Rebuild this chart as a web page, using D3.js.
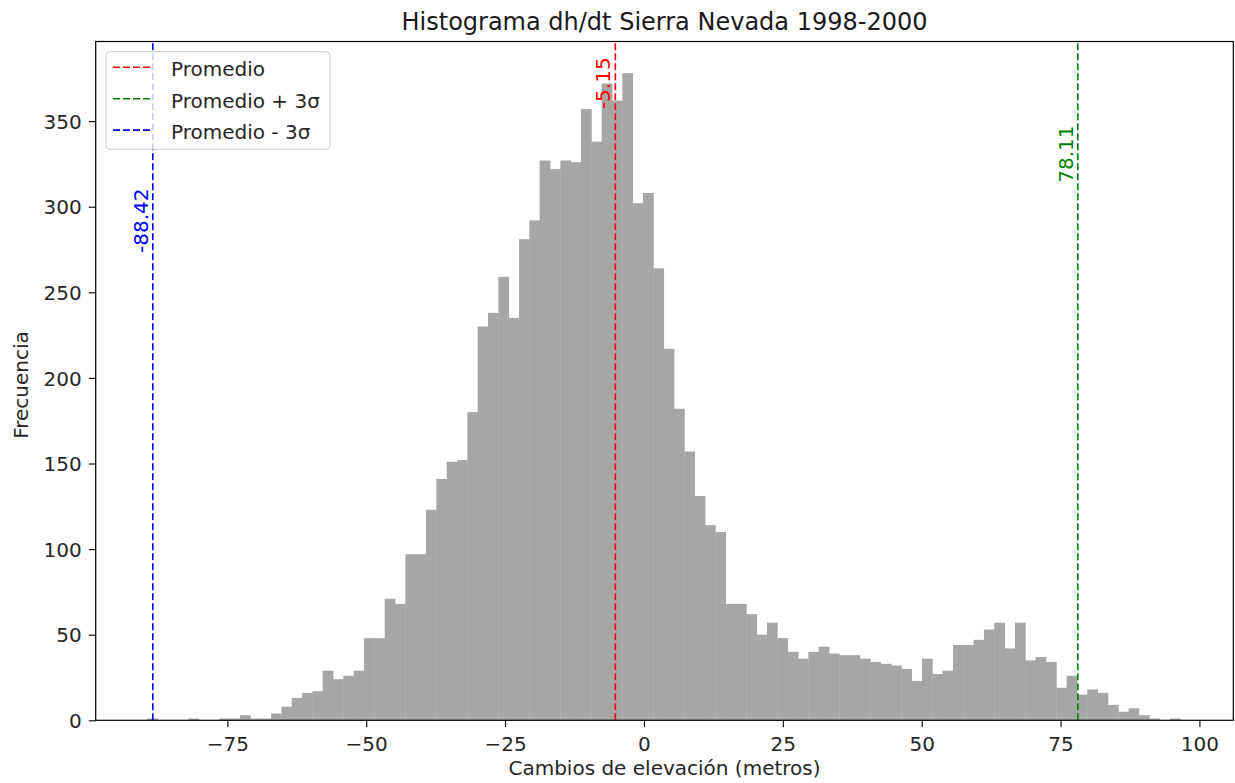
<!DOCTYPE html>
<html>
<head>
<meta charset="utf-8">
<script src="https://cdn.jsdelivr.net/npm/d3@7"></script>
<style>
    body { margin: 0; background: #fff; }
    svg { display: block; font-family: "DejaVu Sans", sans-serif; }
</style>
</head>
<body>
<svg id="chart" width="1235" height="783"></svg>
<script>
// Histogram counts, 100 bins from binStart, each binWidth wide
const binStart = -89.45;
const binWidth = 1.86;
const binCounts = [
    1, 0, 0, 0, 1, 0, 0, 1, 1, 3,
    1, 1, 4, 8, 13, 16, 17, 29, 24, 26,
    29, 48, 48, 71, 68, 97, 97, 123, 141, 151,
    152, 180, 230, 238, 259, 235, 281, 292, 327, 322,
    327, 326, 357, 338, 372, 362, 378, 302, 308, 264,
    217, 182, 157, 131, 114, 110, 68, 68, 62, 50,
    57, 48, 40, 36, 40, 43, 39, 38, 38, 36,
    34, 33, 32, 30, 23, 36, 27, 29, 44, 44,
    47, 53, 57, 42, 57, 35, 37, 34, 19, 26,
    15, 18, 16, 9, 5, 7, 3, 1, 0, 1,
];

// Reference lines: mean and mean +/- 3 sigma
const refNames = ["Promedio", "Promedio + 3σ", "Promedio - 3σ"];
const refValues = [-5.15, 78.11, -88.42];
const refTexts = ["-5.15", "78.11", "-88.42"];
const refColors = ["#ff0000", "#008000", "#0000ff"];
const refLabelAt = [357, 314, 273]; // frequency where the rotated label starts

const xTicks = [-75, -50, -25, 0, 25, 50, 75, 100];
const yTicks = [0, 50, 100, 150, 200, 250, 300, 350];

const W = 1235, H = 783;
const margin = { top: 41.5, right: 1.7, bottom: 62.7, left: 95.7 };
const dash = "7,3";

/**
 * Draw the histogram with its reference lines and legend
 */
function drawChart() {
    const svg = d3.select("#chart");

    const x = d3.scaleLinear().domain([-98.7, 106.1]).range([margin.left, W - margin.right]);
    const y = d3.scaleLinear().domain([0, 396.5]).range([H - margin.bottom, margin.top]);

    const bins = binCounts.map((count, i) => ({
        x0: binStart + i * binWidth,
        x1: binStart + (i + 1) * binWidth,
        count,
    }));

    // bars (tiny overlap so no seams show between neighbours)
    svg.append("g")
        .selectAll("rect")
        .data(bins.filter((d) => d.count > 0))
        .enter()
        .append("rect")
        .attr("x", (d) => x(d.x0))
        .attr("width", (d) => x(d.x1) - x(d.x0) + 0.4)
        .attr("y", (d) => y(d.count))
        .attr("height", (d) => y(0) - y(d.count))
        .attr("fill", "#a6a6a6");

    // vertical dashed lines
    const refs = refValues.map((v, i) => ({
        v, name: refNames[i], text: refTexts[i], color: refColors[i], at: refLabelAt[i],
    }));

    svg.append("g")
        .selectAll("line")
        .data(refs)
        .enter()
        .append("line")
        .attr("x1", (d) => x(d.v))
        .attr("x2", (d) => x(d.v))
        .attr("y1", y.range()[0])
        .attr("y2", y.range()[1])
        .attr("stroke", (d) => d.color)
        .attr("stroke-width", 1.6)
        .attr("stroke-dasharray", dash);

    svg.append("g")
        .selectAll("text")
        .data(refs)
        .enter()
        .append("text")
        .attr("transform", (d) => `translate(${x(d.v) - 5},${y(d.at)}) rotate(-90)`)
        .attr("fill", (d) => d.color)
        .attr("font-size", 20)
        .text((d) => d.text);

    // axes
    const xAxis = svg.append("g")
        .attr("transform", `translate(0,${y(0)})`)
        .call(d3.axisBottom(x).tickValues(xTicks).tickFormat(d3.format("d")).tickSize(7).tickPadding(10));
    const yAxis = svg.append("g")
        .attr("transform", `translate(${margin.left},0)`)
        .call(d3.axisLeft(y).tickValues(yTicks).tickSize(7).tickPadding(7));

    [xAxis, yAxis].map((g) => {
        g.select(".domain").remove();
        g.selectAll(".tick line").attr("stroke", "#000").attr("stroke-width", 1.1);
        g.selectAll(".tick text")
            .attr("fill", "#262626")
            .attr("font-size", 20)
            .attr("font-family", "DejaVu Sans");
    });
    yAxis.selectAll(".tick text").attr("dy", "0.36em");

    // spines
    svg.append("rect")
        .attr("x", margin.left)
        .attr("y", margin.top)
        .attr("width", W - margin.right - margin.left)
        .attr("height", H - margin.bottom - margin.top)
        .attr("fill", "none")
        .attr("stroke", "#000")
        .attr("stroke-width", 1.2);

    // titles
    const cx = (margin.left + W - margin.right) / 2;
    svg.append("text")
        .attr("x", cx).attr("y", 29.5)
        .attr("text-anchor", "middle")
        .attr("font-size", 24)
        .attr("fill", "#1a1a1a")
        .text("Histograma dh/dt Sierra Nevada 1998-2000");

    svg.append("text")
        .attr("x", cx).attr("y", 775)
        .attr("text-anchor", "middle")
        .attr("font-size", 20)
        .attr("fill", "#262626")
        .text("Cambios de elevación (metros)");

    svg.append("text")
        .attr("transform", `translate(28,385) rotate(-90)`)
        .attr("text-anchor", "middle")
        .attr("font-size", 20)
        .attr("fill", "#262626")
        .text("Frecuencia");

    drawLegend(svg, refs);
}

/**
 * Legend box in the upper left corner
 * @param {d3 selection} svg
 * @param {Array} refs
 */
function drawLegend(svg, refs) {
    const lg = svg.append("g").attr("transform", "translate(106,51.7)");

    lg.append("rect")
        .attr("width", 224)
        .attr("height", 97.6)
        .attr("rx", 4)
        .attr("fill", "#fff")
        .attr("fill-opacity", 0.8)
        .attr("stroke", "#cccccc")
        .attr("stroke-width", 1);

    const row = lg.selectAll("g.row")
        .data(refs)
        .enter()
        .append("g")
        .attr("class", "row")
        .attr("transform", (d, i) => `translate(0,${15.6 + i * 31.4})`);

    row.append("line")
        .attr("x1", 7).attr("x2", 47)
        .attr("stroke", (d) => d.color)
        .attr("stroke-width", 1.6)
        .attr("stroke-dasharray", dash);

    row.append("text")
        .attr("x", 65).attr("y", 9)
        .attr("font-size", 20)
        .attr("fill", "#262626")
        .text((d) => d.name);
}

drawChart();
</script>
</body>
</html>
